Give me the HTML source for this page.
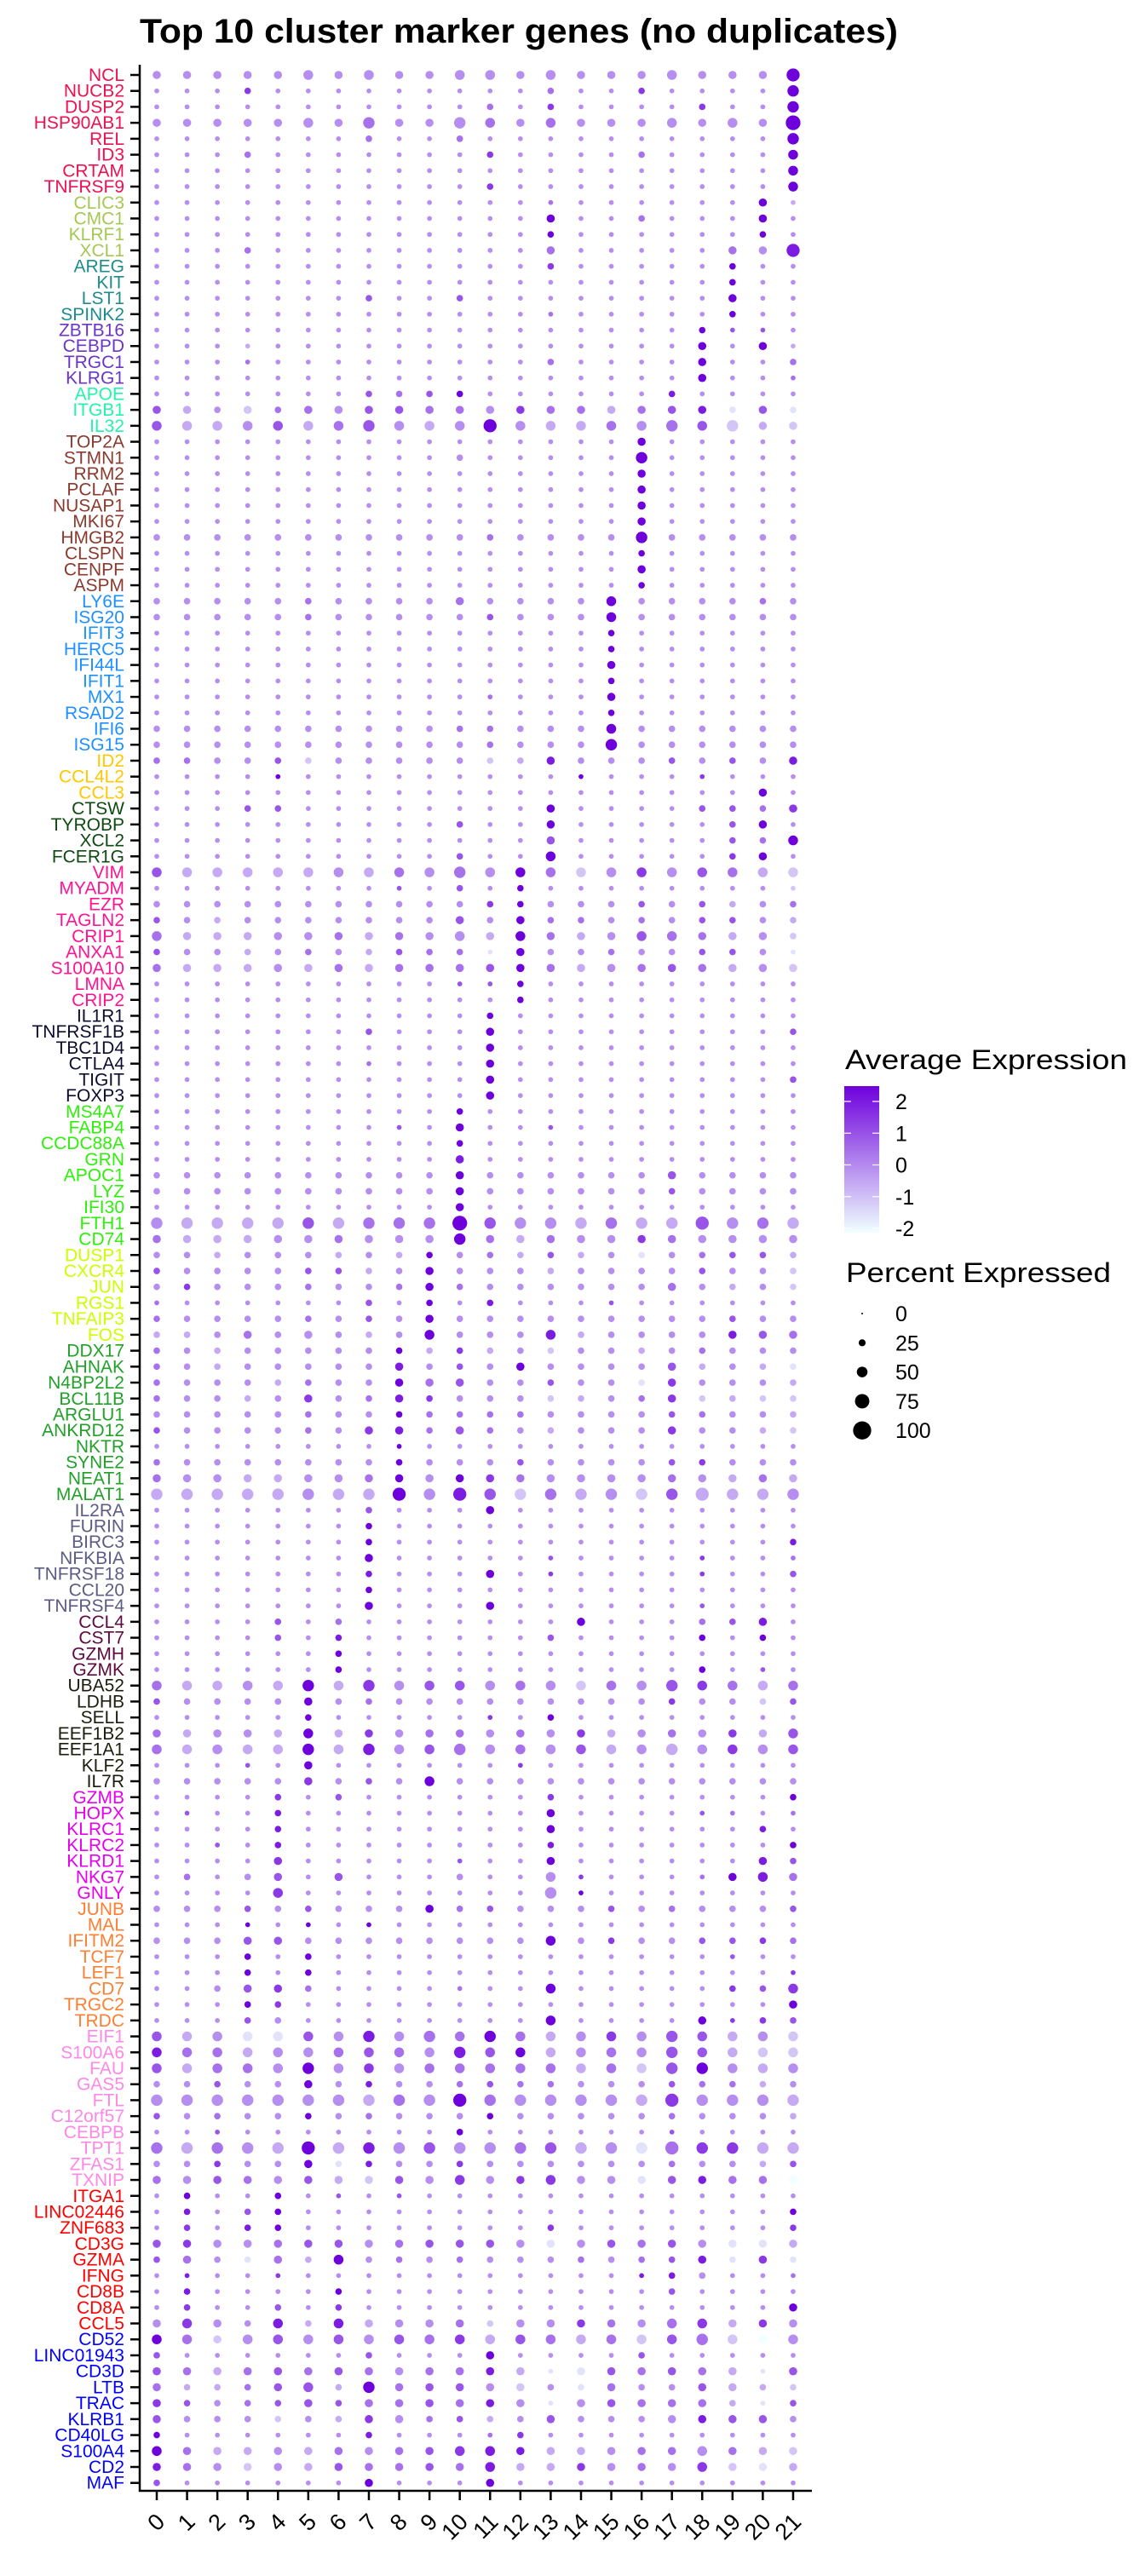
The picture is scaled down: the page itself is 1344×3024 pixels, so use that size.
<!DOCTYPE html>
<html><head><meta charset="utf-8"><title>Top 10 cluster marker genes</title>
<style>html,body{margin:0;padding:0;background:#fff}svg{display:block}text{font-family:"Liberation Sans",Arial,sans-serif}</style>
</head><body>
<svg id="chart" width="1344" height="3024" viewBox="0 0 1344 3024" xmlns="http://www.w3.org/2000/svg">
<text x="164" y="50" font-size="40" font-weight="bold" textLength="890" lengthAdjust="spacingAndGlyphs">Top 10 cluster marker genes (no duplicates)</text>
<g id="grid"></g>
<line x1="164" y1="76" x2="164" y2="2925" stroke="#000" stroke-width="2.5"/>
<line x1="163" y1="2924" x2="953" y2="2924" stroke="#000" stroke-width="2.5"/>
<g>
<text x="992" y="1255" font-size="32" textLength="331" lengthAdjust="spacingAndGlyphs">Average Expression</text>
<defs><linearGradient id="cg" x1="0" y1="0" x2="0" y2="1"><stop offset="0" stop-color="#6E00DC"/><stop offset="1" stop-color="#F0FFFF"/></linearGradient></defs>
<rect x="991" y="1275" width="41" height="172" fill="url(#cg)"/>
<g id="cticks"></g>
</g>
<g>
<text x="993" y="1505" font-size="32" textLength="311" lengthAdjust="spacingAndGlyphs">Percent Expressed</text>
<g id="sticks"></g>
</g>
</svg>
<script>
const NS="http://www.w3.org/2000/svg";
const clusters=["0","1","2","3","4","5","6","7","8","9","10","11","12","13","14","15","16","17","18","19","20","21"];
const genes=["NCL","NUCB2","DUSP2","HSP90AB1","REL","ID3","CRTAM","TNFRSF9","CLIC3","CMC1","KLRF1","XCL1","AREG","KIT","LST1","SPINK2","ZBTB16","CEBPD","TRGC1","KLRG1","APOE","ITGB1","IL32","TOP2A","STMN1","RRM2","PCLAF","NUSAP1","MKI67","HMGB2","CLSPN","CENPF","ASPM","LY6E","ISG20","IFIT3","HERC5","IFI44L","IFIT1","MX1","RSAD2","IFI6","ISG15","ID2","CCL4L2","CCL3","CTSW","TYROBP","XCL2","FCER1G","VIM","MYADM","EZR","TAGLN2","CRIP1","ANXA1","S100A10","LMNA","CRIP2","IL1R1","TNFRSF1B","TBC1D4","CTLA4","TIGIT","FOXP3","MS4A7","FABP4","CCDC88A","GRN","APOC1","LYZ","IFI30","FTH1","CD74","DUSP1","CXCR4","JUN","RGS1","TNFAIP3","FOS","DDX17","AHNAK","N4BP2L2","BCL11B","ARGLU1","ANKRD12","NKTR","SYNE2","NEAT1","MALAT1","IL2RA","FURIN","BIRC3","NFKBIA","TNFRSF18","CCL20","TNFRSF4","CCL4","CST7","GZMH","GZMK","UBA52","LDHB","SELL","EEF1B2","EEF1A1","KLF2","IL7R","GZMB","HOPX","KLRC1","KLRC2","KLRD1","NKG7","GNLY","JUNB","MAL","IFITM2","TCF7","LEF1","CD7","TRGC2","TRDC","EIF1","S100A6","FAU","GAS5","FTL","C12orf57","CEBPB","TPT1","ZFAS1","TXNIP","ITGA1","LINC02446","ZNF683","CD3G","GZMA","IFNG","CD8B","CD8A","CCL5","CD52","LINC01943","CD3D","LTB","TRAC","KLRB1","CD40LG","S100A4","CD2","MAF"];
const groupSizes=[8,4,4,4,3,10,10,3,4,9,6,9,6,10,7,4,7,7,8,10,9,10];
const groupColors=["#EE1050","#A4C853","#1E8C8C","#6A35C8","#22F5A8","#8B3A2E","#1E90FF","#FFC800","#0E4A12","#FF1493","#0C0C2E","#2EF00A","#CCFF00","#22A02A","#5C5C84","#5E0A40","#1C1C0C","#E600F0","#FF7F32","#FF88E6","#FF0000","#0000FF"];
const pctCodes=["33333 43433 44343 33433 36","11121 11111 11121 12111 15","11111 11111 12121 11121 15","33333 43533 54343 33434 37","11111 11211 21111 11111 15","11121 11111 12111 12111 14","11111 11111 11111 11111 14","11111 11111 12111 11111 14",
"11111 11111 11111 11111 31","11111 11111 11131 12111 31","11111 11111 11121 11111 21","11121 11111 11131 11113 36",
"11111 11111 11121 11112 11","11111 11111 11111 11112 11","11111 11211 21111 11113 11","11111 11111 11111 11112 11",
"11111 11111 11111 11121 11","11111 11111 11111 11131 31","11111 11111 11121 11131 12","11111 11111 11111 11131 11",
"11111 11222 21111 11211 11","33232 33333 33333 33332 32","44444 44544 46444 44545 33",
"11111 11111 11111 13111 11","11111 11111 21111 15111 11","11111 11111 11111 13111 11","11111 11111 11111 13111 11","11111 11111 11111 13111 11","11111 11111 11111 13111 11","22222 22222 22222 25222 22","11111 11111 11111 12111 11","11111 11111 11111 13111 11","11111 11111 11111 12111 11",
"22222 22222 32222 42222 22","22222 22222 22222 42222 22","11111 11111 11111 21111 11","11111 11111 11111 21111 11","11111 11111 11111 31111 11","11111 11111 11111 21111 11","11111 11111 11111 31111 11","11111 11111 11111 21111 11","22222 22222 22222 42222 22","22222 22222 22222 52222 22",
"22222 22222 22232 22222 23","11111 11111 11111 11111 11","11111 11111 11111 11111 31",
"11122 11111 11131 11122 23","11111 11111 21131 11112 31","11111 11111 11131 11112 24","11111 11111 21141 11112 31",
"44444 44444 54444 44444 44","11111 11111 21211 11111 11","22222 22222 22222 22222 22","22222 22222 32322 22222 22","43333 33333 43433 34433 32","22222 22222 21322 22222 21","33333 33333 33333 33333 33","11111 11111 11211 11111 11","11111 11111 11211 11111 11",
"11111 11111 12111 11111 11","11111 11211 13111 11111 12","11111 11111 13111 11111 11","11111 11111 13111 11111 11","11111 11111 13111 11111 12","11111 11111 13111 11111 11",
"11111 11111 21111 11111 11","11111 11111 31111 11111 11","11111 11111 21111 11111 11","11111 11111 31111 11111 11","22222 22222 32222 22322 22","22222 22222 32222 22222 22","11111 11111 31111 11111 11","55555 55555 75555 55565 55","33333 33333 53333 33333 33",
"22222 22222 22222 22222 22","22222 22223 22222 22222 22","22222 22223 22222 22322 22","11111 11212 12111 11111 11","22222 22223 22222 22222 22","22232 32224 22242 22223 33",
"22222 22222 22222 22222 22","22222 22232 22322 22322 22","22222 22233 32222 22322 22","22222 32232 22222 22322 22","22222 22222 22222 22222 22","22222 22332 32222 22322 22","11111 11111 11111 11111 11","22222 22222 22222 22222 22","33333 33333 33333 33333 33","55555 55565 65555 55565 55",
"11111 11211 13111 11111 11","11111 11211 11111 11111 11","11111 11211 11111 11111 12","11111 11311 11111 11111 11","11111 11211 13111 11111 12","11111 11211 11111 11111 11","11111 11311 13111 11111 11",
"11112 12111 11113 11122 31","11112 12111 11121 11121 21","11111 12111 11111 11111 11","11111 12111 11111 11121 11",
"44444 54544 44444 44544 44","22222 32222 22222 22222 22","11111 21111 11121 11111 11","33333 43333 33333 33333 34","44444 54544 54444 44544 44","11111 31111 11111 11111 11","22222 32224 22222 22222 22",
"11112 12111 11121 11111 12","11112 11111 11131 11111 11","11112 11111 11131 11111 21","11112 11111 11121 11111 12","11113 11111 11131 11111 32","12123 13111 21141 11113 43","11114 11111 11151 11111 11",
"22222 22223 22222 22222 22","11111 11111 11111 11111 11","22233 22222 22242 22222 22","11121 21111 11111 11111 11","11121 21111 11111 11111 11","11233 21111 11141 11112 24","11122 11111 11111 11111 13","11122 11111 11141 11131 22",
"44444 44545 45444 44544 44","44444 44444 54444 44544 44","44444 54444 44444 44554 44","22222 32222 22222 22222 22","55555 55555 65555 55655 55","22222 22222 22222 22222 22","11111 11111 21111 11111 11","55555 65555 55555 55655 55","22222 32222 22222 22222 22","33333 33333 43343 33333 33",
"12112 11111 11111 11111 11","12122 11111 11111 11111 12","12122 11111 11121 11111 12","33333 33333 33333 33333 33","23223 24222 22222 22232 32","11111 11111 11111 11221 11","12111 12111 11111 11211 11","12112 12111 11111 11111 13","34324 24333 32333 33443 33",
"44344 44444 44444 44454 34","21111 11211 13111 12111 11","33333 33333 33313 33333 13","32223 42533 33322 32233 22","32222 32333 33313 33332 12","32222 22332 22232 22333 32","21111 11211 11211 11111 11","43333 33333 44333 33343 33","33333 33333 34333 33343 33","21111 11311 13111 11111 11"];
const expCodes=["44444 44444 44444 44444 49","44474 44444 44454 47444 49","44444 44444 45474 44474 49","44444 44544 45454 44444 49","44444 44544 54444 44444 49","44454 44444 47444 45444 49","44444 44444 44444 44444 49","44444 44444 47444 44444 49",
"44444 44444 44454 44444 93","44444 44444 44494 45444 94","44444 44444 44494 44444 94","44454 44444 44454 44445 48",
"44444 44444 44474 44449 44","44444 44444 44444 44449 44","44444 44644 64444 44449 44","44444 44444 44454 44449 44",
"44444 44444 44444 44496 64","44434 44444 44444 44494 93","44454 44444 44454 44494 45","44444 44444 44444 44494 45",
"44444 44656 94444 44844 44","63425 54665 54755 35681 61","63346 35643 49433 54562 32",
"44444 44444 44444 49444 44","44444 44444 44444 49444 44","44444 44444 44444 49444 44","44444 44444 44444 49444 44","44444 44444 44444 49444 44","44444 44444 44444 49444 44","44444 44444 45444 49444 44","44444 44444 44444 49444 44","44444 44444 44444 49444 44","44444 44444 44444 49444 44",
"44444 54444 54444 94444 54","44444 54444 46444 94444 44","44444 44444 44444 94444 44","44444 44444 44444 94444 44","44444 44444 44444 94444 44","44444 44444 44444 94444 44","44444 44444 45444 94444 44","44444 44444 44444 94444 44","44444 44444 55444 94444 44","44444 44444 45444 94444 44",
"55446 24444 42384 44646 48","44449 44444 44449 44474 44","44444 44444 44444 44444 94",
"44466 44444 44494 44466 57","44444 44444 64494 44446 94","44444 44444 44464 44446 59","44444 44444 64494 44447 94",
"63333 34354 54952 47465 32","44444 44464 64944 44444 42","44444 44444 47944 46463 45","64344 44444 64955 45466 43","53334 45354 43953 46553 42","64434 54365 51944 54466 41","53334 35355 56953 45653 42","44444 44444 66944 44444 44","44444 44444 44944 44444 44",
"44444 44444 49444 44444 44","44444 44644 49444 44444 46","44444 44444 49444 44444 44","44444 44544 49444 44444 44","44444 44444 49444 44444 46","44444 44444 49444 44444 44",
"44444 44444 94444 44444 44","44444 44464 94464 44444 44","44444 44444 94444 44444 44","44444 44444 84444 44444 44","44444 44444 94444 44644 44","44444 44444 94444 44644 44","44444 44444 94444 44444 44","43333 63555 96443 53364 53","53334 45444 95354 47544 44",
"44344 43439 45363 41456 63","64444 66349 44434 44464 42","47444 54459 54444 44543 42","54444 44649 48444 64444 44","54444 54649 44444 44446 44","33454 44349 44483 44448 65",
"54344 44493 73424 43454 44","54344 44484 64944 44634 31","54443 54495 64464 41744 43","54434 74587 44423 45723 22","44444 54495 55544 44654 43","64444 54785 65434 44744 32","44444 44494 44444 44444 44","54444 44494 44644 44674 44","54433 44594 97544 44543 53","33333 43394 86253 42633 34",
"44444 44644 49444 44444 44","44444 44944 44444 44444 44","44444 44944 44444 44444 48","44444 44944 44464 44474 45","44444 44844 49474 44474 46","44444 44944 44444 44444 44","44444 44944 49444 44464 44",
"44446 45444 44449 44456 84","44446 48444 44464 44494 94","44444 49444 44444 44444 44","44444 49444 44444 44494 64",
"53343 93746 64542 54675 35","64444 94544 44444 44744 26","44444 94444 47494 44444 44","53443 93745 54547 34547 36","53433 93846 54546 34347 46","44464 94444 44744 44444 44","44444 74649 44444 44444 44",
"44447 46444 44474 44444 49","46448 44444 44494 44465 45","44448 44444 44494 44444 84","44648 44444 44484 44444 49","44447 44444 64494 44444 86","45446 46444 44447 44459 85","44447 44444 44449 44444 44",
"44464 64449 56444 64544 46","44494 94944 44444 44444 44","44466 44444 44494 74466 75","44494 94444 44444 44446 44","44494 94444 44444 44444 47","44467 54444 54494 44447 67","44497 44444 44444 44444 49","44464 44444 44494 44497 76",
"63411 64845 59534 74663 42","85534 45654 86934 54663 22","63554 94745 55553 52694 34","44644 94844 56554 44655 34","44444 44354 95444 43744 43","64544 94544 49444 44544 43","44644 44444 94444 44644 44","53543 93846 44563 41577 33","44744 91844 74444 44544 36","54654 63264 74774 41685 50",
"49449 46464 44444 44444 44","48469 44444 44444 44444 49","47489 44444 44474 44444 47","67445 66456 66414 65641 13","65415 39454 54445 45681 71","48447 44444 44444 48844 45","48444 49444 44444 44644 44","47446 47444 44444 44444 49","47448 38344 52447 54573 74",
"95246 46465 73653 52652 04","64444 44644 49444 46444 44","65356 56545 58311 65653 16","53356 63956 64241 54463 32","76456 66556 58414 65553 16","64442 43745 63464 44486 64","94444 44844 45744 44444 44","95334 35456 78833 45545 32","85424 36556 58337 45472 13","64444 44944 49444 44444 44"];
const colorTicks=[2,1,0,-1,-2];
const sizeTicks=[0,25,50,75,100];

function xScale(i){return 184+i*35.57;}
function yScale(r){return 88+r*18.72;}
function pctOf(code){return code*11;}
function expOf(code){return -2.2+code*0.5;}
function diam(p){return 3.8+0.175*p;}
function colY(v){return 1442-(v+2)*37.25;}
function col(e){let t=(e+2.2)/4.5;t=Math.max(0,Math.min(1,t));
 const a=[240,255,255],b=[110,0,220];
 return "rgb("+a.map((v,i)=>Math.round(v+(b[i]-v)*t)).join(",")+")";}
function mk(tag,at,parent){const e=document.createElementNS(NS,tag);for(const k in at)e.setAttribute(k,at[k]);parent.appendChild(e);return e;}

const svg=document.getElementById("chart");
const grid=document.getElementById("grid");
const rowColor=[];
groupSizes.forEach((n,gi)=>{for(let k=0;k<n;k++)rowColor.push(groupColors[gi]);});

genes.forEach((g,r)=>{
 const y=yScale(r);
 const t=mk("text",{x:146,y:y+7,"font-size":21,"text-anchor":"end",fill:rowColor[r]},svg);
 
 
 t.textContent=g;
 const tk=mk("line",{x1:153,x2:164,y1:y,y2:y,stroke:"#000","stroke-width":2.5},svg);
 
 
 const s=pctCodes[r].replace(/ /g,""), c=expCodes[r].replace(/ /g,"");
 for(let i=0;i<clusters.length;i++){
  const p=pctOf(+s[i]), e=expOf(+c[i]);
  const d=mk("circle",{cx:xScale(i),cy:y,r:diam(p)/2,fill:col(e)},grid);
  
  
 }
});
clusters.forEach((cl,i)=>{
 const x=xScale(i);
 const tk=mk("line",{x1:x,x2:x,y1:2924,y2:2935,stroke:"#000","stroke-width":2.5},svg);
 
 
 const t=mk("text",{x:x+11,y:2962,"font-size":27,"text-anchor":"end",transform:"rotate(-45 "+(x+11)+" 2962)"},svg);
 
 
 t.textContent=cl;
});
const ct=document.getElementById("cticks");
colorTicks.forEach(v=>{
 const y=colY(v);
 mk("line",{x1:991,x2:999,y1:y,y2:y,stroke:"#fff","stroke-width":1.2},ct);
 mk("line",{x1:1024,x2:1032,y1:y,y2:y,stroke:"#fff","stroke-width":1.2},ct);
 const t=mk("text",{x:1051,y:y+9,"font-size":25},ct);
 
 
 t.textContent=String(v);
});
const st=document.getElementById("sticks");
sizeTicks.forEach((v,i)=>{
 const y=1542+i*34.3;
 const d=mk("circle",{cx:1012,cy:y,r:v===0?1:diam(v)/2,fill:"#000"},st);
 
 
 const t=mk("text",{x:1051,y:y+9,"font-size":25},st);
 
 
 t.textContent=String(v);
});
</script>
</body></html>
